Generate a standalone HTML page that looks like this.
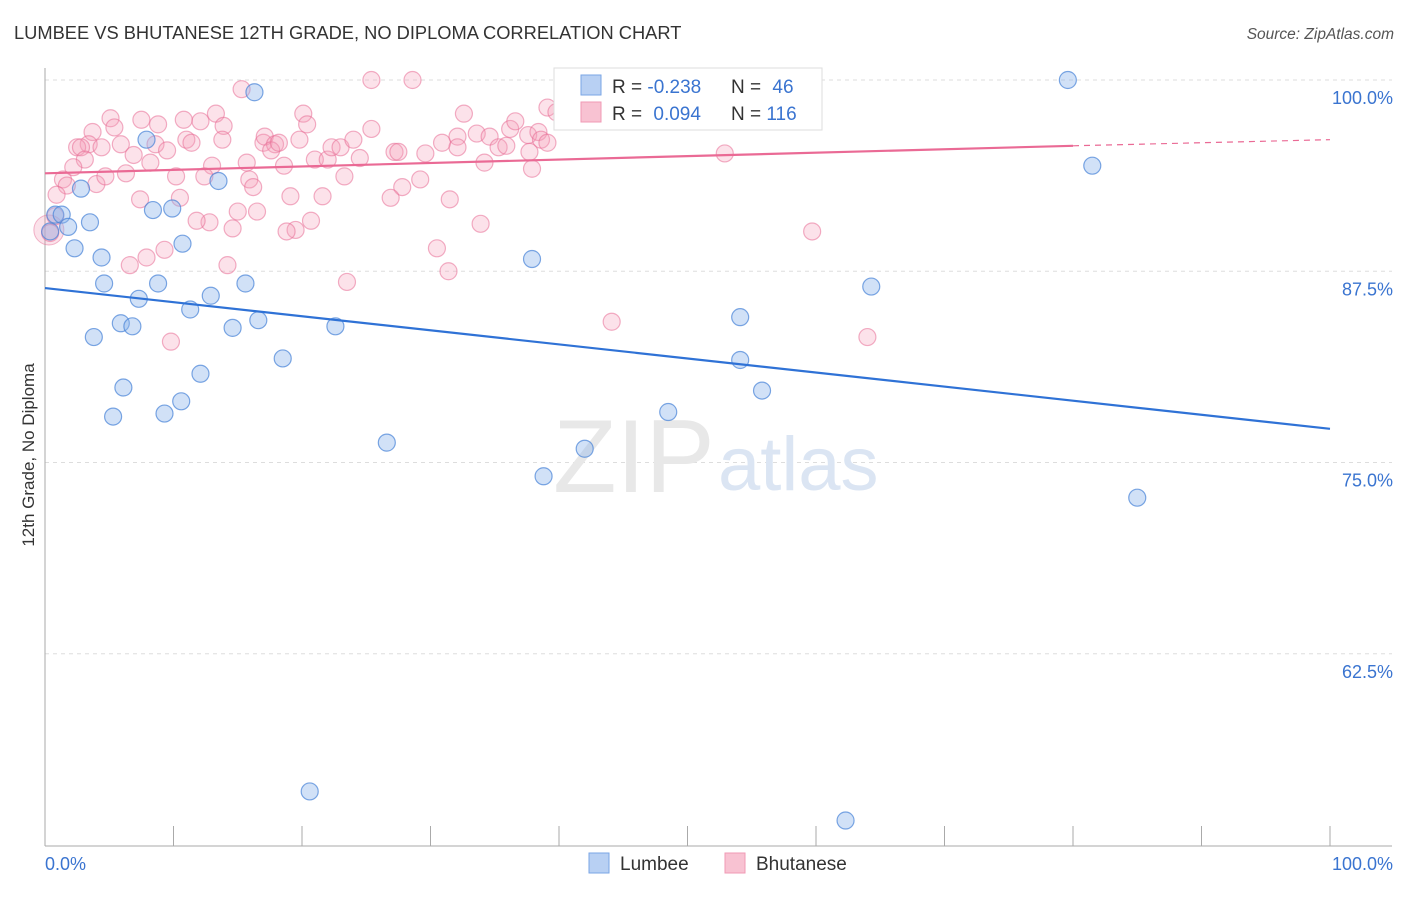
<!DOCTYPE html>
<html><head><meta charset="utf-8"><style>
body{margin:0;background:#fff;font-family:"Liberation Sans",sans-serif;}
svg text{font-family:"Liberation Sans",sans-serif;}
</style></head><body>
<svg id="chart" width="1406" height="892">
<text x="14" y="39" font-size="18.3" fill="#333">LUMBEE VS BHUTANESE 12TH GRADE, NO DIPLOMA CORRELATION CHART</text>
<text x="1394" y="39" font-size="15.5" fill="#555" font-style="italic" text-anchor="end">Source: ZipAtlas.com</text>
<g id="grid"></g>
<text x="553" y="492" font-size="104" font-family="Liberation Serif,serif" fill="#e8e8e8">ZIP</text>
<text x="718" y="490" font-size="76" fill="#dbe5f3">atlas</text>
<g id="points"></g>
<g id="lines"></g>
<text transform="translate(34,455) rotate(-90)" font-size="17" fill="#333" text-anchor="middle">12th Grade, No Diploma</text>
<g>
<rect x="554" y="68" width="268" height="62" fill="#fff" stroke="#ddd"/>
<rect x="581" y="75" width="20" height="20" fill="#b8d0f3" stroke="#7aa6e6"/>
<rect x="581" y="102" width="20" height="20" fill="#f8c2d2" stroke="#f09ab4"/>
<text x="612" y="93" font-size="19" fill="#333">R = <tspan fill="#3a74d0">-0.238</tspan></text>
<text x="731" y="93" font-size="19" fill="#333">N = <tspan fill="#3a74d0" dx="6">46</tspan></text>
<text x="612" y="120" font-size="19" fill="#333">R = <tspan fill="#3a74d0" dx="6">0.094</tspan></text>
<text x="731" y="120" font-size="19" fill="#333">N = <tspan fill="#3a74d0">116</tspan></text>
</g>
<g>
<rect x="589" y="853" width="20" height="20" fill="#b8d0f3" stroke="#7aa6e6"/>
<text x="620" y="870" font-size="19" fill="#333">Lumbee</text>
<rect x="725" y="853" width="20" height="20" fill="#f8c2d2" stroke="#f09ab4"/>
<text x="756" y="870" font-size="19" fill="#333">Bhutanese</text>
</g>
<text x="45" y="870" font-size="18" fill="#3a74d0">0.0%</text>
<text x="1393" y="870" font-size="18" fill="#3a74d0" text-anchor="end">100.0%</text>
</svg>
<script>
const yTicks=[100,87.5,75,62.5];
const yTickLabels=["100.0%","87.5%","75.0%","62.5%"];
const xTicks=[0,10,20,30,40,50,60,70,80,90,100];
const blueX=[16.3,79.6,81.5,7.9,2.8,13.5,0.8,1.3,1.8,3.5,8.4,9.9,10.7,2.3,4.4,37.9,4.6,8.8,15.6,7.3,12.9,11.3,64.3,5.9,6.8,14.6,16.6,22.6,54.1,3.8,18.5,54.1,6.1,12.1,10.6,55.8,5.3,9.3,48.5,26.6,42.0,38.8,85.0,20.6,62.3,0.4];
const blueY=[99.2,100,94.4,96.1,92.9,93.4,91.2,91.2,90.4,90.7,91.5,91.6,89.3,89.0,88.4,88.3,86.7,86.7,86.7,85.7,85.9,85.0,86.5,84.1,83.9,83.8,84.3,83.9,84.5,83.2,81.8,81.7,79.9,80.8,79.0,79.7,78.0,78.2,78.3,76.3,75.9,74.1,72.7,53.5,51.6,90.1];
const pinkX=[5.1,5.4,7.5,8.8,10.8,12.1,13.3,13.9,13.8,3.7,3.4,2.5,2.8,4.4,3.1,2.2,1.4,1.7,4.0,4.7,6.3,5.9,6.9,8.2,8.6,9.5,11.0,11.4,10.2,13.0,12.4,15.7,15.9,16.2,17.0,17.1,17.9,17.6,18.2,19.8,20.1,20.4,18.6,19.1,20.7,19.5,18.8,16.5,15.0,14.6,12.8,11.8,10.5,7.4,9.3,7.9,6.6,14.2,9.8,0.9,0.8,0.4,21.0,22.0,22.3,23.0,21.6,23.3,24.0,24.5,25.4,25.4,28.6,32.6,30.9,32.1,32.1,29.6,27.2,27.5,29.2,27.8,26.9,31.5,30.5,31.4,23.5,33.9,34.2,33.6,34.6,35.3,35.9,36.2,36.6,37.6,38.4,37.7,37.9,38.6,39.1,39.1,39.8,40.4,15.3,44.1,52.9,59.7,64.0,46.0];
const pinkY=[97.5,96.9,97.4,97.1,97.4,97.3,97.8,97.0,96.1,96.6,95.8,95.6,95.6,95.6,94.8,94.3,93.5,93.1,93.2,93.7,93.9,95.8,95.1,94.6,95.8,95.4,96.1,95.9,93.7,94.4,93.7,94.6,93.5,93.0,95.9,96.3,95.8,95.4,95.9,96.1,97.8,97.1,94.4,92.4,90.8,90.2,90.1,91.4,91.4,90.3,90.7,90.8,92.3,92.2,88.9,88.4,87.9,87.9,82.9,92.5,91.1,90.0,94.8,94.8,95.6,95.6,92.4,93.7,96.1,94.9,96.8,100,100,97.8,95.9,96.3,95.6,95.2,95.3,95.3,93.5,93.0,92.3,92.2,89.0,87.5,86.8,90.6,94.6,96.5,96.3,95.6,95.7,96.8,97.3,96.4,96.6,95.3,94.2,96.1,95.9,98.2,97.9,97.8,99.4,84.2,95.2,90.1,83.2,100];
const blueFit=[86.4,77.2];
const pinkFit=[93.9,95.7,96.1];
const NS='http://www.w3.org/2000/svg';
const X=v=>45+v*12.85;
const Y=v=>80+(100-v)*15.3;
function mk(tag,attrs,parent){const e=document.createElementNS(NS,tag);for(const k in attrs)e.setAttribute(k,attrs[k]);parent.appendChild(e);return e;}
const grid=document.getElementById('grid');
yTicks.forEach((t,i)=>{
 const l=mk('line',{x1:45,x2:1392,y1:Y(t),y2:Y(t),stroke:'#ddd','stroke-dasharray':'4,4'},grid);
 
 
 const tx=mk('text',{x:1393,y:Y(t)+24,'font-size':18,fill:'#3a74d0','text-anchor':'end'},grid);
 tx.textContent=yTickLabels[i];
 
 
});
const ax=mk('line',{x1:45,x2:45,y1:68,y2:846,stroke:'#aaa'},grid);


const bx=mk('line',{x1:45,x2:1392,y1:846,y2:846,stroke:'#aaa'},grid);


xTicks.forEach(t=>{
 const l=mk('line',{x1:X(t),x2:X(t),y1:826,y2:846,stroke:'#aaa'},grid);
 
 
});
const pts=document.getElementById('points');
const big=mk('circle',{cx:X(0.3),cy:Y(90.2),r:15,fill:'rgba(240,140,170,0.25)',stroke:'rgba(230,110,150,0.5)'},pts);


pinkX.forEach((x,i)=>{
 const c=mk('circle',{cx:X(x),cy:Y(pinkY[i]),r:8.5,fill:'rgba(245,160,185,0.3)',stroke:'rgba(232,110,150,0.55)','stroke-width':1.2},pts);
 
 
});
blueX.forEach((x,i)=>{
 const c=mk('circle',{cx:X(x),cy:Y(blueY[i]),r:8.5,fill:'rgba(140,180,235,0.4)',stroke:'rgba(70,130,215,0.7)','stroke-width':1.2},pts);
 
 
});
const ln=document.getElementById('lines');
const bl=mk('line',{x1:X(0),y1:Y(blueFit[0]),x2:X(100),y2:Y(blueFit[1]),stroke:'#2f72d6','stroke-width':2.2},ln);


const pl=mk('line',{x1:X(0),y1:Y(pinkFit[0]),x2:X(80),y2:Y(pinkFit[1]),stroke:'#ea6a95','stroke-width':2.2},ln);


const pd=mk('line',{x1:X(80),y1:Y(pinkFit[1]),x2:X(100),y2:Y(pinkFit[2]),stroke:'#ea6a95','stroke-width':1.2,'stroke-dasharray':'6,5'},ln);


</script>
</body></html>
